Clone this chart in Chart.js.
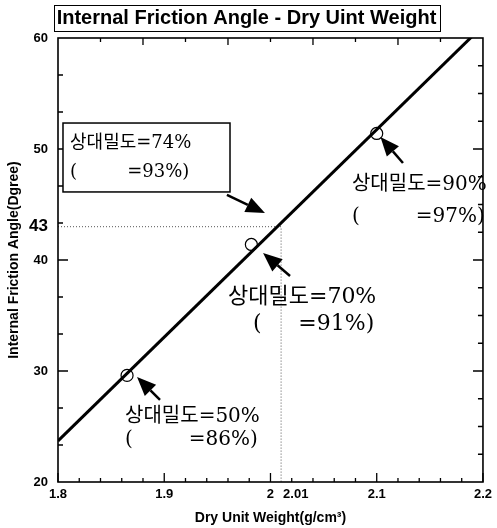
<!DOCTYPE html>
<html><head><meta charset="utf-8">
<script src="https://cdn.jsdelivr.net/npm/chart.js@4"></script>
<style>html,body{margin:0;padding:0;background:#fff}#wrap{width:497px;height:528px;position:relative}</style>
</head><body><div id="wrap"><canvas id="c"></canvas></div>
<script>
const chartTitle = 'Internal Friction Angle - Dry Uint Weight';
const xTitle = 'Dry Unit Weight(g/cm³)';
const yTitle = 'Internal Friction Angle(Dgree)';
const xTickLabels = [1.8, 1.9, 2.0, 2.1, 2.2];
const yTickLabels = [20, 30, 40, 43, 50, 60];
const pointX = [1.865, 1.982, 2.1];
const pointY = [29.6, 41.4, 51.4];
const fitX = [1.8, 2.2];
const fitY = [23.7, 61.1];
const refX = 2.01;
const refY = 43;
const refLabelX = '2.01';
// annotations (order: 50%, 70%, 90%, 74%)
const relDensity = [50, 70, 90, 74];
const compaction = [86, 91, 97, 93];
const noteSize = [20, 22, 20, 18];
const noteX = [1.8631, 1.96, 2.0767, 1.8113];
const noteY1 = [25.86, 36.67, 46.76, 50.54];
const noteY2 = [23.78, 34.23, 43.87, 47.93];
const parenX = [1.8631, 1.9835, 2.0767, 1.8113];
const arrowFrom = [[1.896, 27.39], [2.0184, 38.56], [2.1247, 48.74], [1.959, 45.86]];
const arrowTo = [[1.8744, 29.46], [1.993, 40.63], [2.1035, 51.08], [1.9948, 44.23]];
const boxX = [1.8047, 1.9619];
const boxY = [52.34, 46.13];

const FONT = '"Liberation Sans", Arial, sans-serif';
const noteFont = s => s + 'px "DejaVu Serif", "Noto Sans CJK KR", serif';

const framePlugin = {
  id: 'frame',
  afterDatasetsDraw(c) {
    const ctx = c.ctx, a = c.chartArea, xs = c.scales.x, ys = c.scales.y;
    const X = v => xs.getPixelForValue(v), Y = v => ys.getPixelForValue(v);
    ctx.save();
    ctx.strokeStyle = '#000';
    ctx.lineWidth = 1.3;
    ctx.beginPath();
    for (let k = 0; k <= 20; k++) {
      const v = 1.8 + k * 0.02, len = (k % 5 === 0) ? 9 : 4;
      ctx.moveTo(X(v), a.bottom); ctx.lineTo(X(v), a.bottom - len);
    }
    for (let k = 1; k < 10; k++) {
      const v = 1.8 + k * 0.04, len = (k % 2 === 0) ? 7 : 4;
      ctx.moveTo(X(v), a.top); ctx.lineTo(X(v), a.top + len);
    }
    for (let k = 1; k < 12; k++) {
      const v = 20 + k * 10 / 3, len = (k % 3 === 0) ? 10 : 5;
      ctx.moveTo(a.left, Y(v)); ctx.lineTo(a.left + len, Y(v));
    }
    for (let k = 1; k < 16; k++) {
      const v = 20 + k * 2.5, len = (k % 4 === 0) ? 10 : 5;
      ctx.moveTo(a.right, Y(v)); ctx.lineTo(a.right - len, Y(v));
    }
    ctx.stroke();
    ctx.lineWidth = 1.6;
    ctx.strokeRect(a.left, a.top, a.right - a.left, a.bottom - a.top);

    ctx.fillStyle = '#000';
    ctx.font = 'bold 13px ' + FONT;
    ctx.textAlign = 'left'; ctx.textBaseline = 'middle';
    ctx.fillText(refLabelX, X(refX) + 2, a.bottom + 12);

    const bx0 = X(boxX[0]), bx1 = X(boxX[1]), by0 = Y(boxY[0]), by1 = Y(boxY[1]);
    ctx.fillStyle = '#fff';
    ctx.fillRect(bx0, by0, bx1 - bx0, by1 - by0);
    ctx.lineWidth = 1.5;
    ctx.strokeRect(bx0, by0, bx1 - bx0, by1 - by0);
    ctx.fillStyle = '#000';
    ctx.textBaseline = 'middle';
    for (let i = 0; i < relDensity.length; i++) {
      ctx.font = noteFont(noteSize[i]);
      const l1 = '상대밀도=' + relDensity[i] + '%';
      const l2 = '=' + compaction[i] + '%)';
      const x0 = X(noteX[i]);
      const w1 = ctx.measureText(l1).width;
      ctx.textAlign = 'left';
      ctx.fillText(l1, x0, Y(noteY1[i]));
      ctx.fillText('(', X(parenX[i]), Y(noteY2[i]));
      ctx.textAlign = 'right';
      ctx.fillText(l2, x0 + w1 - 2, Y(noteY2[i]));
      const fx = X(arrowFrom[i][0]), fy = Y(arrowFrom[i][1]);
      const tx = X(arrowTo[i][0]), ty = Y(arrowTo[i][1]);
      const ang = Math.atan2(ty - fy, tx - fx), hl = 19, hw = 8;
      const bxh = tx - hl * Math.cos(ang), byh = ty - hl * Math.sin(ang);
      ctx.lineWidth = 2.5;
      ctx.beginPath(); ctx.moveTo(fx, fy); ctx.lineTo(bxh, byh); ctx.stroke();
      ctx.beginPath();
      ctx.moveTo(tx, ty);
      ctx.lineTo(bxh + hw * Math.sin(ang), byh - hw * Math.cos(ang));
      ctx.lineTo(bxh - hw * Math.sin(ang), byh + hw * Math.cos(ang));
      ctx.closePath(); ctx.fill();
    }
    ctx.restore();
  },
  afterDraw(c) {
    const ctx = c.ctx, tb = c.titleBlock;
    ctx.save();
    ctx.font = 'bold 20px ' + FONT;
    const w = ctx.measureText(chartTitle).width;
    const cx = (tb.left + tb.right) / 2;
    ctx.strokeStyle = '#000'; ctx.lineWidth = 1;
    ctx.strokeRect(Math.round(cx - w / 2 - 3) + 0.5, 5.5, Math.round(w + 6), 26);
    ctx.restore();
  }
};

new Chart(document.getElementById('c'), {
  type: 'scatter',
  data: {
    datasets: [
      {
        type: 'line',
        data: [{x: fitX[0], y: refY}, {x: refX, y: refY}, {x: refX, y: 20}],
        borderColor: '#555', borderWidth: 1, borderDash: [1, 2],
        pointRadius: 0, fill: false, order: 3
      },
      {
        type: 'line',
        data: fitX.map((x, i) => ({x, y: fitY[i]})),
        borderColor: '#000', borderWidth: 3, pointRadius: 0, fill: false, order: 2
      },
      {
        data: pointX.map((x, i) => ({x, y: pointY[i]})),
        pointStyle: 'circle', pointRadius: 6, borderWidth: 1.2,
        borderColor: '#000', backgroundColor: 'rgba(0,0,0,0)', order: 1
      }
    ]
  },
  options: {
    responsive: true, maintainAspectRatio: false, animation: false,
    layout: {padding: {left: 5, right: 9, top: 0, bottom: 0}},
    plugins: {
      legend: {display: false}, tooltip: {enabled: false},
      title: {display: true, text: chartTitle, color: '#000',
        font: {family: FONT, size: 20, weight: 'bold', lineHeight: 1.2}, padding: {top: 6.5, bottom: 7.5}}
    },
    scales: {
      x: {
        type: 'linear', min: 1.8, max: 2.2,
        grid: {display: false, drawTicks: false}, border: {display: false},
        afterBuildTicks: s => { s.ticks = xTickLabels.map(v => ({value: v})); },
        afterFit: s => { s.height = 46; },
        ticks: {color: '#000', padding: 5, font: {family: FONT, size: 13, weight: 'bold'},
          maxRotation: 0, autoSkip: false, callback: v => String(v)},
        title: {display: true, text: xTitle, color: '#000', padding: {top: 2, bottom: 1},
          font: {family: FONT, size: 14, weight: 'bold'}}
      },
      y: {
        type: 'linear', min: 20, max: 60,
        grid: {display: false, drawTicks: false}, border: {display: false},
        afterBuildTicks: s => { s.ticks = yTickLabels.map(v => ({value: v})); },
        afterFit: s => { s.width = 53; },
        ticks: {color: '#000', padding: 10, autoSkip: false, callback: v => String(v),
          font: ctx => ({family: FONT, weight: 'bold', size: (ctx.tick && ctx.tick.value === refY) ? 17 : 13})},
        title: {display: true, text: yTitle, color: '#000', padding: {top: 1, bottom: 0},
          font: {family: FONT, size: 14, weight: 'bold'}}
      }
    }
  },
  plugins: [framePlugin]
});
</script></body></html>
